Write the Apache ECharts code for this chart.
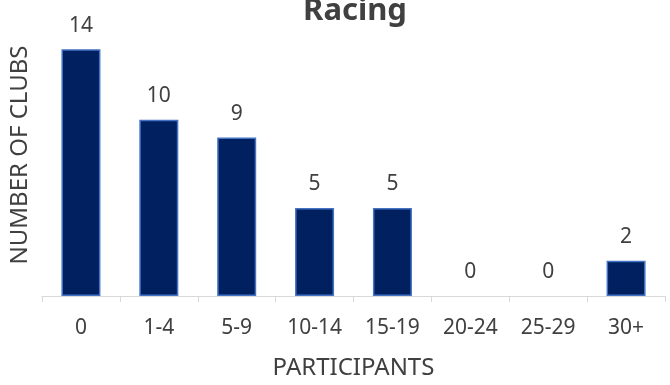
<!DOCTYPE html>
<html>
<head>
<meta charset="utf-8">
<script src="https://cdn.jsdelivr.net/npm/echarts@6/dist/echarts.min.js"></script>
<style>
  html, body { margin: 0; padding: 0; background: #fff; }
  #chart { width: 670px; height: 385px; }
</style>
</head>
<body>
<div id="chart"></div>
<script>
// Clubs grouped by number of racing participants
const categories = ['0', '1-4', '5-9', '10-14', '15-19', '20-24', '25-29', '30+'];
const clubCounts = [14, 10, 9, 5, 5, 0, 0, 2];

const FONT = '"Noto Sans", "Open Sans", sans-serif';
const TEXT_COLOR = '#404040';

const chart = echarts.init(document.getElementById('chart'), null, { renderer: 'canvas' });

// zero-height bars get no outline so nothing shows on the axis
const barData = clubCounts.map(v => ({
  value: v,
  itemStyle: { borderWidth: v === 0 ? 0 : 1.5 }
}));

chart.setOption({
  animation: false,
  backgroundColor: '#ffffff',
  title: {
    text: 'Racing',
    left: 350,
    top: -9,
    textAlign: 'center',
    textStyle: {
      fontFamily: FONT,
      fontSize: 31,
      fontWeight: 'bold',
      color: TEXT_COLOR
    }
  },
  grid: {
    left: 41,
    right: 5,
    top: 14,
    bottom: 89,
    containLabel: false
  },
  xAxis: {
    type: 'category',
    data: categories,
    name: 'PARTICIPANTS',
    nameLocation: 'middle',
    nameGap: 60,
    nameTextStyle: {
      fontFamily: FONT,
      fontSize: 24,
      color: TEXT_COLOR
    },
    axisLine: { lineStyle: { color: '#d9d9d9', width: 1 } },
    axisTick: { show: true, length: 6, lineStyle: { color: '#d9d9d9' } },
    axisLabel: {
      fontFamily: FONT,
      fontSize: 21,
      color: TEXT_COLOR,
      margin: 22
    }
  },
  yAxis: {
    type: 'value',
    min: 0,
    max: 16,
    name: 'NUMBER OF CLUBS',
    nameLocation: 'middle',
    nameGap: 10,
    nameTextStyle: {
      fontFamily: FONT,
      fontSize: 24,
      color: TEXT_COLOR
    },
    axisLine: { show: false },
    axisTick: { show: false },
    axisLabel: { show: false },
    splitLine: { show: false }
  },
  series: [{
    type: 'bar',
    data: barData,
    barWidth: 39,
    itemStyle: {
      color: '#002060',
      borderColor: '#4472c4',
      borderWidth: 1.5
    },
    label: {
      show: true,
      position: 'top',
      distance: 13,
      fontFamily: FONT,
      fontSize: 21,
      color: TEXT_COLOR
    }
  }]
});
</script>
</body>
</html>
